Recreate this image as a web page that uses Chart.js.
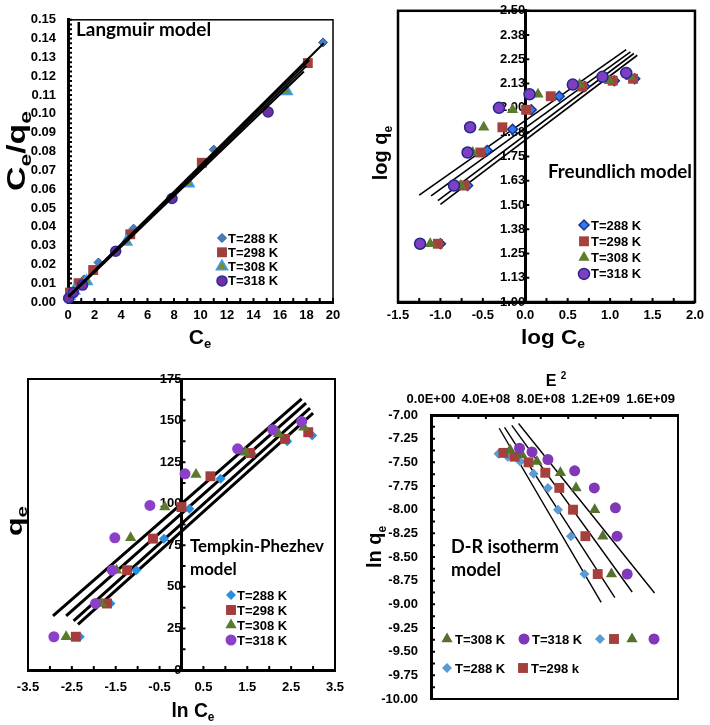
<!DOCTYPE html>
<html>
<head>
<meta charset="utf-8">
<title>Adsorption isotherm models</title>
<script src="https://cdn.jsdelivr.net/npm/chart.js"></script>
<style>
  body { margin: 0; background: #fff; }
  #wrap { position: relative; width: 710px; height: 725px; overflow: hidden; }
  canvas { position: absolute; }
</style>
</head>
<body>
<div id="wrap">
  <canvas id="langmuir" width="355" height="360" style="left:0;top:0"></canvas>
  <canvas id="freundlich" width="355" height="360" style="left:355px;top:0"></canvas>
  <canvas id="tempkin" width="355" height="380" style="left:0;top:345px"></canvas>
  <canvas id="dr" width="355" height="380" style="left:355px;top:345px"></canvas>
</div>
<script>
const temps = ['T=288 K', 'T=298 K', 'T=308 K', 'T=318 K'];

// Langmuir: Ce vs Ce/qe
const langX = [
  [0.1, 0.5, 1.2, 2.3, 4.95, 11.0, 19.25],
  [0.15, 0.8, 1.9, 4.7, 10.1, 18.1],
  [0.1, 0.45, 1.4, 4.4, 9.1, 16.5],
  [0.05, 0.4, 1.1, 3.6, 7.85, 15.1]
];
const langY = [
  [0.003, 0.006, 0.012, 0.021, 0.039, 0.081, 0.138],
  [0.005, 0.010, 0.017, 0.036, 0.074, 0.127],
  [0.003, 0.006, 0.011, 0.032, 0.063, 0.112],
  [0.002, 0.005, 0.009, 0.027, 0.055, 0.101]
];
const langFitX = [[0.05, 19.3], [0.05, 18.2], [0.05, 18.0], [0.05, 17.8]];
const langFitY = [[0.0030, 0.1375], [0.0032, 0.1285], [0.0029, 0.1255], [0.0026, 0.1225]];

// Freundlich: log Ce vs log qe
const frX = [
  [-1.0, -0.68, -0.45, -0.15, 0.07, 0.40, 0.70, 1.05, 1.29],
  [-1.03, -0.72, -0.53, -0.27, 0.01, 0.30, 0.67, 1.03, 1.27],
  [-1.12, -0.76, -0.62, -0.49, -0.15, 0.15, 0.64, 0.99, 1.24],
  [-1.24, -0.84, -0.68, -0.65, -0.31, 0.05, 0.56, 0.91, 1.19]
];
const frY = [
  [1.30, 1.60, 1.78, 1.89, 1.99, 2.06, 2.11, 2.14, 2.15],
  [1.30, 1.60, 1.77, 1.90, 1.99, 2.06, 2.11, 2.14, 2.15],
  [1.30, 1.60, 1.77, 1.90, 1.99, 2.07, 2.12, 2.14, 2.16],
  [1.30, 1.60, 1.77, 1.90, 2.00, 2.07, 2.12, 2.16, 2.18]
];
const frFitX = [[-1.25, 1.19], [-1.11, 1.24], [-1.03, 1.28], [-1.0, 1.32]];
const frFitY = [[1.551, 2.300], [1.547, 2.288], [1.522, 2.280], [1.503, 2.271]];

// Tempkin-Phezhev: ln Ce vs qe
const tkX = [
  [-2.32, -1.62, -1.03, -0.40, 0.18, 0.89, 1.60, 2.41, 2.98],
  [-2.41, -1.70, -1.24, -0.65, 0.00, 0.66, 1.56, 2.36, 2.89],
  [-2.63, -1.83, -1.48, -1.16, -0.38, 0.33, 1.45, 2.21, 2.79],
  [-2.91, -1.96, -1.58, -1.52, -0.72, 0.08, 1.28, 2.08, 2.74]
];
const tkY = [
  [20, 40, 60, 79, 97, 115, 130, 137.5, 141],
  [20, 40, 60, 79, 98, 116.5, 130.5, 139, 143],
  [20, 40, 60, 79.5, 98, 117.5, 131, 142, 146],
  [20, 40, 60, 79.5, 99, 118, 133, 144.5, 149.5]
];
const tkFitX = [[-2.93, 2.74], [-2.63, 2.84], [-2.46, 2.93], [-2.36, 3.0]];
const tkFitY = [[32.5, 163], [32.5, 160.5], [29.5, 157.5], [27.5, 154.5]];

// D-R: E^2 vs ln qe
const drX = [
  [4.92e8, 5.6e8, 6.5e8, 7.48e8, 8.52e8, 9.25e8, 1.02e9, 1.118e9],
  [5.28e8, 6.09e8, 7.11e8, 8.33e8, 9.35e8, 1.035e9, 1.125e9, 1.215e9],
  [5.77e8, 6.62e8, 7.72e8, 9.43e8, 1.057e9, 1.193e9, 1.252e9, 1.315e9],
  [6.45e8, 7.36e8, 8.52e8, 1.047e9, 1.19e9, 1.344e9, 1.356e9, 1.43e9]
];
const drY = [
  [-7.41, -7.44, -7.49, -7.62, -7.77, -8.00, -8.28, -8.68],
  [-7.40, -7.44, -7.50, -7.61, -7.77, -8.00, -8.28, -8.68],
  [-7.37, -7.42, -7.49, -7.61, -7.77, -8.00, -8.28, -8.68],
  [-7.35, -7.39, -7.47, -7.59, -7.77, -7.98, -8.28, -8.68]
];
const drFitX = [[4.97e8, 1.24e9], [5.36e8, 1.34e9], [5.89e8, 1.466e9], [6.38e8, 1.629e9]];
const drFitY = [[-7.14, -8.98], [-7.13, -8.93], [-7.11, -8.87], [-7.09, -8.88]];
const drTicksX = [0, 4e8, 8e8, 1.2e9, 1.6e9];

const FAM = '"Liberation Sans", Arial, sans-serif';
const tickFont = { family: FAM, size: 13, weight: 'bold' };

const langStyles = [
  { shape: 'rectRot', r: 4.5, fill: '#4a7ebb', stroke: '#2f5a8f', bw: 1 },
  { shape: 'rect', r: 7, fill: '#a0403d' },
  { shape: 'triangle', r: 6.5, fill: '#7a8c35', stroke: '#3e9cf0', bw: 1.5 },
  { shape: 'circle', r: 5, fill: '#7030a0', stroke: '#2b2b9b', bw: 1.5 }
];
const frStyles = [
  { shape: 'rectRot', r: 5, fill: '#2b7de9', stroke: '#1b2f8f', bw: 1.5 },
  { shape: 'rect', r: 7, fill: '#a5423e' },
  { shape: 'triangle', r: 6.5, fill: '#5e7a2c' },
  { shape: 'circle', r: 5.5, fill: '#7e40c0', stroke: '#262690', bw: 1.5 }
];
const tkStyles = [
  { shape: 'rectRot', r: 5, fill: '#2a8ee0' },
  { shape: 'rect', r: 7, fill: '#a33c3a' },
  { shape: 'triangle', r: 6.5, fill: '#5c7a2c' },
  { shape: 'circle', r: 5.5, fill: '#8a40c8' }
];
const drStyles = [
  { shape: 'rectRot', r: 5, fill: '#5b9bd5' },
  { shape: 'rect', r: 7, fill: '#a5403c' },
  { shape: 'triangle', r: 6.5, fill: '#567030' },
  { shape: 'circle', r: 5.5, fill: '#8038b8' }
];

function pointSets(xs, ys, styles) {
  return xs.map((col, i) => ({
    label: temps[i],
    data: col.map((x, j) => ({ x: x, y: ys[i][j] })),
    pointStyle: styles[i].shape,
    pointRadius: styles[i].r,
    pointBackgroundColor: styles[i].fill,
    pointBorderColor: styles[i].stroke || styles[i].fill,
    pointBorderWidth: styles[i].bw || 0,
    showLine: false,
    clip: false,
    order: 3 - i
  }));
}

function fitSets(xs, ys, width, order) {
  return xs.map((col, i) => ({
    label: 'fit ' + temps[i],
    data: col.map((x, j) => ({ x: x, y: ys[i][j] })),
    showLine: true,
    borderColor: '#000',
    borderWidth: width,
    pointRadius: 0,
    order: order
  }));
}

function axis(min, max, step, fmt, pad) {
  return {
    type: 'linear', min: min, max: max,
    grid: { display: false, drawTicks: false, tickLength: 0 },
    border: { display: true, color: '#000', width: 3 },
    ticks: { stepSize: step, autoSkip: false, maxRotation: 0, includeBounds: false,
             color: '#000', font: tickFont, padding: pad, callback: fmt }
  };
}

function sci(v) {
  if (v === 0) return '0.0E+00';
  const e = Math.floor(Math.log10(v) + 1e-9);
  const m = v / Math.pow(10, e);
  return m.toFixed(1) + 'E+' + String(e).padStart(2, '0');
}

function drawMarker(ctx, m, x, y) {
  const r = m.r;
  ctx.save();
  ctx.fillStyle = m.fill;
  ctx.strokeStyle = m.stroke || m.fill;
  ctx.lineWidth = m.bw || 0;
  ctx.beginPath();
  if (m.shape === 'circle') {
    ctx.arc(x, y, r, 0, Math.PI * 2);
  } else if (m.shape === 'rect') {
    const h = r * Math.SQRT1_2;
    ctx.rect(x - h, y - h, 2 * h, 2 * h);
  } else if (m.shape === 'rectRot') {
    ctx.moveTo(x, y - r); ctx.lineTo(x + r, y); ctx.lineTo(x, y + r); ctx.lineTo(x - r, y);
    ctx.closePath();
  } else {
    const s = Math.sin(Math.PI * 2 / 3) * r;
    ctx.moveTo(x, y - r); ctx.lineTo(x + s, y + r / 2); ctx.lineTo(x - s, y + r / 2);
    ctx.closePath();
  }
  ctx.fill();
  if (m.bw) ctx.stroke();
  ctx.restore();
}

// parts: [text, 'n' normal | 's' subscript | 'u' superscript]
function richText(ctx, t) {
  const size = t.size;
  const big = 'bold ' + size + 'px ' + FAM;
  const small = 'bold ' + Math.round(size * (t.sub || 0.62)) + 'px ' + FAM;
  ctx.save();
  ctx.translate(t.x, t.y);
  if (t.rot) ctx.rotate(t.rot);
  ctx.fillStyle = '#000';
  ctx.textBaseline = 'alphabetic';
  ctx.textAlign = 'left';
  let w = 0;
  t.parts.forEach(p => { ctx.font = p[1] === 'n' ? big : small; w += ctx.measureText(p[0]).width; });
  if (t.w) ctx.scale(t.w / w, 1);
  let cx = -w / 2;
  t.parts.forEach(p => {
    ctx.font = p[1] === 'n' ? big : small;
    const dy = p[1] === 's' ? size * 0.22 : p[1] === 'u' ? -size * 0.42 : 0;
    ctx.fillText(p[0], cx, size * 0.36 + dy);
    cx += ctx.measureText(p[0]).width;
  });
  ctx.restore();
}

function drawTicks(chart, t) {
  const ctx = chart.ctx, a = chart.chartArea, s = chart.scales[t.axis];
  const n = Math.round((s.max - s.min) / t.step);
  const out = t.out || 0;
  ctx.beginPath();
  for (let i = 0; i <= n; i++) {
    const p = s.getPixelForValue(s.min + i * t.step);
    if (t.axis === 'x') {
      const y0 = t.at === 'top' ? a.top : a.bottom;
      const dir = t.at === 'top' ? 1 : -1;
      ctx.moveTo(p, y0 - dir * out);
      ctx.lineTo(p, y0 + dir * t.len);
    } else {
      const x0 = t.at === 'zero' ? chart.scales.x.getPixelForValue(0) : a.left;
      ctx.moveTo(x0 - out, p);
      ctx.lineTo(x0 + t.len, p);
    }
  }
  ctx.stroke();
}

const decorCfg = {
  langmuir: {
    frame: 1.5,
    ticks: [{ axis: 'x', at: 'bottom', step: 1, len: 4 }, { axis: 'y', at: 'left', step: 0.0025, len: 4, out: 1 }],
    titles: [
      { parts: [['C', 'n'], ['e', 's'], ['/q', 'n'], ['e', 's']], x: 16, y: 151, size: 25, sub: 0.68, w: 80, rot: -Math.PI / 2 },
      { parts: [['C', 'n'], ['e', 's']], x: 200, y: 336, size: 21 }
    ],
    notes: [{ lines: ['Langmuir model'], x: 76, y: 30, w: 135, lh: 23 }],
    legend: { styles: langStyles, x: 222, tx: 228, y: 238, dy: 14.3 }
  },
  freundlich: {
    frame: 2.5,
    ticks: [{ axis: 'x', at: 'bottom', step: 0.25, len: 4 }, { axis: 'y', at: 'zero', step: 0.125, len: 4 }],
    titles: [
      { parts: [['log q', 'n'], ['e', 's']], x: 25, y: 153, size: 20, rot: -Math.PI / 2 },
      { parts: [['log C', 'n'], ['e', 's']], x: 198, y: 336, size: 21, w: 64 }
    ],
    notes: [{ lines: ['Freundlich model'], x: 193, y: 172, w: 144, lh: 23 }],
    legend: { styles: frStyles, x: 229, tx: 236, y: 225, dy: 16.3 }
  },
  tempkin: {
    frame: 2,
    ticks: [{ axis: 'x', at: 'bottom', step: 0.5, len: 4 }, { axis: 'y', at: 'zero', step: 12.5, len: 4 }],
    titles: [
      { parts: [['q', 'n'], ['e', 's']], x: 14, y: 176, size: 22, sub: 0.68, w: 30, rot: -Math.PI / 2 },
      { parts: [['ln C', 'n'], ['e', 's']], x: 193, y: 364, size: 21, w: 43 }
    ],
    notes: [{ lines: ['Tempkin-Phezhev', 'model'], x: 190, y: 202, w: 134, lh: 23 }],
    legend: { styles: tkStyles, x: 231, tx: 237, y: 250, dy: 15 }
  },
  dr: {
    frame: 2,
    ticks: [{ axis: 'x', at: 'top', step: 2e8, len: 4 }, { axis: 'y', at: 'left', step: 0.125, len: 4 }],
    titles: [
      { parts: [['ln q', 'n'], ['e', 's']], x: 19, y: 202, size: 20, rot: -Math.PI / 2 },
      { parts: [['E ', 'n'], ['2', 'u']], x: 201, y: 35, size: 16 }
    ],
    notes: [{ lines: ['D-R isotherm', 'model'], x: 96, y: 202, w: 108, lh: 23 }],
    items: [
      { i: 2, x: 92, y: 294, text: 'T=308 K' }, { i: 3, x: 169, y: 294, text: 'T=318 K' },
      { i: 0, x: 245, y: 294 }, { i: 1, x: 259, y: 294 }, { i: 2, x: 277, y: 294 }, { i: 3, x: 299, y: 294 },
      { i: 0, x: 92, y: 323, text: 'T=288 K' }, { i: 1, x: 168, y: 323, text: 'T=298 k' }
    ],
    itemStyles: drStyles
  }
};

const decor = {
  id: 'decor',
  beforeDatasetsDraw(chart) {
    const c = decorCfg[chart.canvas.id];
    if (!c) return;
    const ctx = chart.ctx, a = chart.chartArea;
    ctx.save();
    ctx.strokeStyle = '#000';
    ctx.lineWidth = c.frame;
    ctx.strokeRect(a.left, a.top, a.right - a.left, a.bottom - a.top);
    ctx.lineWidth = 2;
    c.ticks.forEach(t => drawTicks(chart, t));
    ctx.restore();
  },
  afterDatasetsDraw(chart) {
    const c = decorCfg[chart.canvas.id];
    if (!c) return;
    const ctx = chart.ctx;
    c.titles.forEach(t => richText(ctx, t));
    ctx.save();
    ctx.fillStyle = '#000';
    ctx.textBaseline = 'middle';
    ctx.textAlign = 'left';
    c.notes.forEach(n => {
      ctx.font = 'bold 20px Lato, sans-serif';
      const size = 20 * n.w / ctx.measureText(n.lines[0]).width;
      ctx.font = 'bold ' + size.toFixed(1) + 'px Lato, sans-serif';
      n.lines.forEach((line, k) => ctx.fillText(line, n.x, n.y + k * n.lh));
    });
    ctx.font = 'bold 13px ' + FAM;
    if (c.legend) {
      const L = c.legend;
      temps.forEach((label, i) => {
        const y = L.y + i * L.dy;
        drawMarker(ctx, L.styles[i], L.x, y);
        ctx.fillText(label, L.tx, y + 1);
      });
    }
    if (c.items) {
      c.items.forEach(it => {
        drawMarker(ctx, c.itemStyles[it.i], it.x, it.y);
        if (it.text) ctx.fillText(it.text, it.x + 8, it.y + 1);
      });
    }
    ctx.restore();
  }
};
Chart.register(decor);

function makeChart(id, datasets, scales, padding) {
  return new Chart(document.getElementById(id), {
    type: 'scatter',
    data: { datasets: datasets },
    options: {
      responsive: false,
      animation: false,
      events: [],
      layout: { padding: padding },
      plugins: { legend: { display: false }, tooltip: { enabled: false } },
      scales: scales
    }
  });
}

// Langmuir
const l1x = axis(0, 20, 2, v => v.toFixed(0), 6);
l1x.position = 'bottom';
l1x.afterFit = s => { s.height = 58; };
const l1y = axis(0, 0.15, 0.01, v => v.toFixed(2), 12);
l1y.position = 'left';
l1y.afterFit = s => { s.width = 68; };
makeChart('langmuir',
  fitSets(langFitX, langFitY, 2, -1).concat(pointSets(langX, langY, langStyles)),
  { x: l1x, y: l1y }, { left: 0, right: 22, top: 10, bottom: 0 });

// Freundlich
const f1x = axis(-1.5, 2, 0.5, v => v.toFixed(1), 6);
f1x.position = 'bottom';
f1x.afterFit = s => { s.height = 58; };
const f1y = axis(1, 2.5, 0.125, v => v.toFixed(2), 3);
f1y.position = { x: 0 };
makeChart('freundlich',
  pointSets(frX, frY, frStyles).concat(fitSets(frFitX, frFitY, 1.6, 10)),
  { x: f1x, y: f1y }, { left: 43, right: 12, top: 7, bottom: 0 });

// Tempkin-Phezhev
const t1x = axis(-3.5, 3.5, 1, v => v.toFixed(1), 10);
t1x.position = 'bottom';
t1x.afterFit = s => { s.height = 55; };
const t1y = axis(0, 175, 25, v => v.toFixed(0), 10);
t1y.position = { x: 0 };
makeChart('tempkin',
  pointSets(tkX, tkY, tkStyles).concat(fitSets(tkFitX, tkFitY, 3, 10)),
  { x: t1x, y: t1y }, { left: 28, right: 20, top: 34, bottom: 0 });

// D-R isotherm
const d1x = axis(0, 1.8e9, 4e8, v => sci(v), 8);
d1x.position = 'top';
d1x.afterFit = s => { s.height = 70; };
d1x.afterBuildTicks = s => { s.ticks = drTicksX.map(v => ({ value: v })); };
const d1y = axis(-10, -7, 0.25, v => v.toFixed(2), 13);
d1y.position = 'left';
d1y.afterFit = s => { s.width = 76; };
makeChart('dr',
  pointSets(drX, drY, drStyles).concat(fitSets(drFitX, drFitY, 1.4, 10)),
  { x: d1x, y: d1y }, { left: 0, right: 32, top: 0, bottom: 26 });
</script>
</body>
</html>
